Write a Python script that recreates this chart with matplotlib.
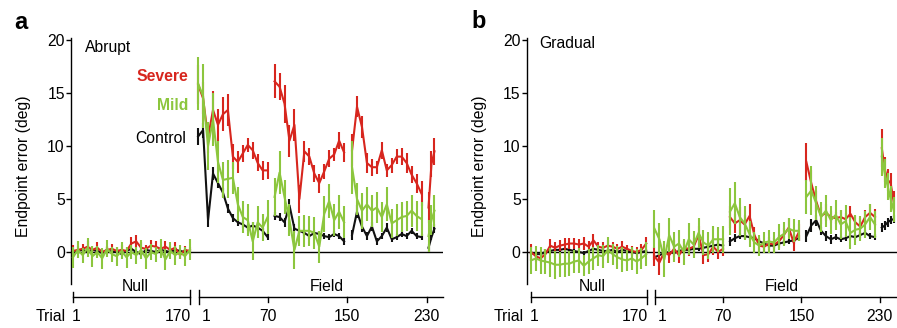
import matplotlib
matplotlib.use('Agg')
import matplotlib.pyplot as plt
import numpy as np

plt.rcParams['font.family'] = ['Liberation Sans', 'DejaVu Sans']
plt.rcParams['font.size'] = 11.3

RED = '#d7261e'
GREEN = '#8cc63e'
BLACK = '#111111'

# trial bins (null phase and the field phase, which is split in blocks)
null_trials = np.arange(1, 170, 7)
field_blocks = [np.arange(0, 71, 5), np.arange(77, 148, 5), np.arange(155, 226, 5)]
a_last_block = [232, 235, 238]
b_last_block = [232, 235, 238, 241, 244]

null_ticks = [1, 170]
field_ticks = [1, 70, 150, 230]

# ---- panel a: abrupt ----
a_null_red = [0.1, 0.2, 0.3, 0.5, 0.2, 0.4, 0.0, 0.2, 0.3, 0.1, 0.2, 0.1, 0.8,
              1.0, 0.4, 0.3, 0.6, 0.5, 0.3, 0.5, 0.2, 0.4, -0.3, 0.2, 0.1]
a_null_red_err = [0.6, 0.4, 0.5, 0.5, 0.4, 0.5, 0.3, 0.4, 0.5, 0.4, 0.5, 0.4, 0.6,
                  0.6, 0.5, 0.4, 0.5, 0.5, 0.4, 0.5, 0.4, 0.5, 0.4, 0.4, 0.4]
a_null_ctl = [-0.1, 0.1, 0.2, 0.0, 0.2, 0.1, -0.1, 0.2, 0.0, 0.1, -0.2, 0.1, 0.3,
              0.0, -0.2, 0.2, 0.1, 0.0, 0.2, 0.1, 0.0, 0.2, 0.1, 0.0, 0.1]
a_null_ctl_err = [0.2, 0.2, 0.3, 0.2, 0.2, 0.2, 0.2, 0.3, 0.2, 0.2, 0.2, 0.2, 0.2,
                  0.3, 0.2, 0.2, 0.2, 0.2, 0.3, 0.2, 0.2, 0.2, 0.2, 0.2, 0.2]
a_null_mild = [-0.5, 0.2, -0.3, 0.4, -0.4, 0.0, -0.6, 0.3, -0.2, -0.4, 0.1, -0.5, 0.0,
               -0.3, 0.2, -0.6, 0.0, -0.2, 0.3, -0.7, 0.1, -0.3, 0.0, -0.4, 0.2]
a_null_mild_err = [1.0, 0.8, 0.7, 0.9, 1.0, 0.6, 1.0, 0.8, 0.7, 0.9, 0.8, 1.0, 0.7,
                   0.8, 0.9, 1.0, 0.8, 0.7, 0.9, 1.0, 0.8, 0.9, 0.7, 0.9, 1.0]

a_field_red = [15.8, 14.5, 10.8, 13.4, 12.0, 13.0, 13.4, 9.0, 8.5, 9.3, 10.1, 9.6, 8.4, 7.7, 7.7,
               16.1, 15.6, 14.0, 10.5, 12.0, 5.0, 9.5, 9.0, 7.4, 6.5, 7.6, 8.8, 9.2, 10.5, 9.4,
               9.6, 13.7, 11.8, 8.4, 8.0, 8.0, 9.6, 7.7, 8.2, 9.0, 9.0, 8.4, 7.3, 6.5, 5.5,
               4.2, 8.3, 9.5]
a_field_red_err = [1.8, 1.5, 1.5, 1.8, 1.5, 1.6, 1.5, 1.2, 1.0, 0.8, 0.7, 0.8, 0.8, 0.9, 0.8,
                   1.6, 1.3, 1.8, 1.5, 1.5, 1.3, 1.0, 0.8, 0.8, 0.9, 0.7, 0.8, 0.6, 0.8, 0.9,
                   1.5, 1.0, 1.0, 0.9, 0.8, 0.6, 0.8, 0.6, 0.7, 0.7, 0.8, 0.9, 0.8, 0.9, 1.2,
                   1.5, 1.2, 1.3]
a_field_ctl = [10.9, 11.5, 3.0, 7.4, 6.5, 5.6, 4.1, 3.2, 2.8, 2.6, 2.3, 2.5, 2.3, 2.0, 1.4,
               3.4, 3.3, 2.8, 4.4, 2.2, 2.0, 1.8, 1.5, 1.8, 1.7, 1.5, 1.4, 1.7, 1.5, 1.0,
               1.6, 3.8, 2.4, 1.5, 2.4, 1.0, 1.5, 2.3, 1.2, 1.4, 1.7, 1.5, 2.0, 1.5, 1.4,
               0.4, 1.4, 2.2]
a_field_ctl_err = [0.8, 0.7, 0.6, 0.6, 0.5, 0.4, 0.4, 0.4, 0.3, 0.3, 0.3, 0.3, 0.3, 0.3, 0.3,
                   0.4, 0.4, 0.4, 0.6, 0.4, 0.3, 0.3, 0.3, 0.3, 0.3, 0.3, 0.3, 0.3, 0.3, 0.3,
                   0.5, 0.6, 0.5, 0.4, 0.4, 0.3, 0.3, 0.4, 0.3, 0.3, 0.3, 0.3, 0.3, 0.3, 0.3,
                   0.4, 0.3, 0.4]
a_field_mild = [15.9, 14.7, 10.0, 12.5, 8.5, 6.8, 6.9, 7.0, 4.5, 3.3, 3.0, 1.0, 2.8, 2.3, 3.3,
                5.2, 7.5, 5.2, 3.0, 0.2, 2.0, 2.0, 2.0, 1.8, 0.5, 3.6, 4.8, 3.0, 3.8, 2.8,
                8.0, 5.0, 3.9, 4.5, 3.9, 4.2, 3.3, 4.5, 2.7, 3.0, 3.3, 3.4, 3.9, 3.4, 3.1,
                1.5, 3.0, 3.9]
a_field_mild_err = [2.5, 3.0, 2.3, 2.5, 2.0, 1.7, 1.8, 1.5, 1.6, 1.5, 1.5, 1.8, 1.5, 1.3, 1.6,
                    1.8, 2.0, 1.6, 1.5, 1.8, 1.4, 1.5, 1.4, 1.5, 1.5, 1.7, 1.6, 1.5, 1.6, 1.5,
                    2.5, 1.5, 1.7, 1.6, 1.5, 1.5, 1.4, 1.6, 1.4, 1.5, 1.4, 1.4, 1.5, 1.4, 1.6,
                    1.5, 1.4, 1.5]

# ---- panel b: gradual ----
b_null_red = [0.0, -0.4, -0.6, -0.2, 0.6, 0.4, 0.6, 0.7, 0.8, 0.8, 0.7, 0.8, 0.5,
              1.1, 0.5, 0.4, 0.6, 0.5, 0.3, 0.5, 0.3, 0.1, 0.0, 0.2, 0.8]
b_null_red_err = [0.8, 0.5, 0.4, 0.5, 0.6, 0.5, 0.5, 0.6, 0.5, 0.5, 0.5, 0.6, 0.5,
                  0.6, 0.4, 0.5, 0.5, 0.4, 0.5, 0.5, 0.4, 0.5, 0.5, 0.6, 0.6]
b_null_ctl = [-0.1, -0.2, -0.2, 0.0, 0.1, 0.2, 0.2, 0.3, 0.2, 0.1, 0.0, -0.1, 0.1,
              0.3, 0.2, 0.1, 0.1, 0.2, 0.0, 0.2, 0.1, 0.0, -0.1, 0.0, 0.1]
b_null_ctl_err = [0.2, 0.2, 0.2, 0.3, 0.2, 0.2, 0.2, 0.2, 0.3, 0.2, 0.2, 0.2, 0.2,
                  0.2, 0.2, 0.3, 0.2, 0.2, 0.2, 0.2, 0.2, 0.3, 0.2, 0.2, 0.2]
b_null_mild = [-0.8, -0.6, -0.8, -0.9, -1.0, -1.2, -1.2, -1.1, -1.1, -0.9, -0.8, -1.3, -0.9,
               -0.6, -0.3, -0.4, 0.2, -0.2, -0.5, -0.7, -0.8, -0.6, -0.9, -0.6, -0.2]
b_null_mild_err = [1.3, 1.2, 1.3, 1.2, 1.4, 1.3, 1.2, 1.3, 1.2, 1.1, 1.2, 1.0, 1.2,
                   1.1, 1.0, 1.1, 1.2, 1.0, 1.1, 1.2, 1.0, 1.1, 1.2, 1.0, 1.1]

b_field_red = [-0.4, -1.0, 0.0, -0.3, 0.3, -0.3, 0.4, 0.3, 0.5, 1.6, -0.3, -0.2, 0.5, 0.0, 0.3,
               3.3, 2.7, 3.0, 2.6, 3.4, 1.6, 0.6, 0.5, 0.8, 0.7, 1.0, 1.6, 2.3, 0.9, 1.8,
               8.5, 6.5, 4.8, 3.4, 3.7, 3.3, 3.2, 3.3, 3.1, 3.6, 2.8, 2.4, 3.3, 3.7, 3.3,
               9.8, 7.8, 6.8, 6.5, 4.8]
b_field_red_err = [0.9, 1.2, 0.8, 0.7, 0.8, 0.7, 0.6, 0.7, 0.8, 0.9, 0.8, 0.7, 0.8, 0.7, 0.7,
                   1.0, 0.9, 1.2, 0.9, 1.1, 0.8, 0.6, 0.5, 0.6, 0.6, 0.6, 0.7, 0.9, 0.8, 0.8,
                   1.8, 1.2, 1.0, 0.8, 0.8, 0.6, 0.6, 0.7, 0.6, 0.7, 0.6, 0.8, 0.7, 0.8, 0.8,
                   1.8, 1.2, 1.0, 1.0, 1.0]
b_field_ctl = [-0.5, -0.3, -0.1, 0.0, -0.1, 0.1, 0.2, 0.2, 0.3, 0.3, 0.4, 0.5, 0.6, 0.7, 0.6,
               1.0, 1.3, 1.5, 1.5, 1.4, 1.3, 1.0, 0.8, 0.6, 0.6, 0.8, 0.9, 1.0, 1.1, 1.3,
               1.5, 2.5, 3.0, 2.0, 1.5, 1.2, 1.4, 1.2, 1.3, 1.5, 1.4, 1.6, 1.8, 1.5, 1.4,
               2.3, 2.5, 2.8, 3.0, 3.1]
b_field_ctl_err = [0.3, 0.3, 0.2, 0.3, 0.2, 0.2, 0.2, 0.2, 0.2, 0.2, 0.2, 0.2, 0.2, 0.3, 0.2,
                   0.4, 0.4, 0.3, 0.3, 0.3, 0.3, 0.3, 0.2, 0.2, 0.2, 0.2, 0.2, 0.2, 0.3, 0.3,
                   0.6, 0.6, 0.5, 0.4, 0.5, 0.4, 0.3, 0.3, 0.3, 0.3, 0.3, 0.3, 0.3, 0.3, 0.3,
                   0.4, 0.4, 0.4, 0.4, 0.4]
b_field_mild = [2.2, 1.2, -0.7, 1.6, 0.5, 0.8, 0.0, 1.2, 0.7, 1.8, 0.9, 0.6, 1.2, 1.2, 1.2,
                3.8, 4.6, 3.3, 2.7, 1.7, 0.9, 0.6, 0.9, 1.0, 0.9, 1.4, 1.7, 2.2, 2.0, 2.0,
                5.2, 5.8, 4.6, 3.3, 3.9, 3.0, 3.5, 2.6, 2.9, 1.8, 2.1, 2.2, 2.6, 3.3, 2.6,
                9.0, 7.4, 6.2, 5.0, 4.0]
b_field_mild_err = [1.8, 1.5, 1.7, 1.6, 1.4, 1.3, 1.2, 1.5, 1.3, 1.4, 1.2, 1.3, 1.3, 1.2, 1.3,
                    2.2, 2.0, 1.8, 1.6, 1.2, 1.0, 1.0, 1.0, 1.1, 1.0, 1.2, 1.1, 1.0, 1.1, 1.0,
                    1.6, 2.3, 1.6, 1.4, 1.5, 1.3, 1.4, 1.4, 1.5, 1.5, 1.4, 1.2, 1.3, 1.2, 1.3,
                    1.8, 1.4, 1.3, 1.2, 1.2]


def null_x(t):
    return (np.asarray(t, dtype=float) - 1) * 0.70


def field_x(t):
    return 126 + np.asarray(t, dtype=float)


def draw(ax, blocks, vals, errs, color, z):
    i = 0
    for x in blocks:
        n = len(x)
        ax.errorbar(x, vals[i:i + n], yerr=errs[i:i + n], color=color, lw=1.5,
                    elinewidth=1.5, capsize=0, zorder=z)
        i += n


fig = plt.figure(figsize=(8.97, 3.28), dpi=100)

bottom = (328 - 283.8) / 328
height = (283.8 - 37.9) / 328
panels = [
    # left px, right px, xlim
    (71, 443, (-2.0, 372.6)),
    (527, 897, (-4.1, 373.5)),
]

axes = []
for k, (l, r, xl) in enumerate(panels):
    ax = fig.add_axes([l / 897, bottom, (r - l) / 897, height])
    ax.set_xlim(xl)
    ax.set_ylim(-3, 20.2)
    ax.set_yticks([0, 5, 10, 15, 20])
    ax.set_xticks([])
    for s in ['top', 'right', 'bottom']:
        ax.spines[s].set_visible(False)
    ax.spines['left'].set_linewidth(1.0)
    ax.tick_params(axis='y', direction='out', length=3.5, width=1.0, pad=1)
    ax.axhline(0, color='black', lw=1.0, zorder=1)
    ax.set_ylabel('Endpoint error (deg)')
    ax.yaxis.set_label_coords(-0.107, 0.479)

    # trial axis underneath
    tax = fig.add_axes([l / 897, 0, (r - l) / 897, bottom])
    tax.set_xlim(xl)
    tax.set_ylim(0, 44.2)
    tax.axis('off')
    x0, x1 = null_x(null_ticks[0]), null_x(null_ticks[1])
    f0 = field_x(field_ticks[0])
    tax.plot([x0, x1], [31.5, 31.5], color='black', lw=1.0, clip_on=False)
    tax.plot([f0, xl[1]], [31.5, 31.5], color='black', lw=1.0, clip_on=False)
    tax.plot([x0, x0], [26.5, 36.5], color='black', lw=1.0, clip_on=False)
    tax.plot([x1, x1], [24, 38], color='black', lw=1.0, clip_on=False)
    tax.plot([f0, f0], [24, 38], color='black', lw=1.0, clip_on=False)
    for t in field_ticks[1:]:
        tax.plot([field_x(t)] * 2, [26, 31.5], color='black', lw=1.0, clip_on=False)
        tax.text(field_x(t), 11.5, str(t), ha='center', va='center')
    tax.text(x0 - 1, 11.5, str(null_ticks[0]), ha='left', va='center')
    tax.annotate('Trial', xy=(x0, 11.5), xytext=(-5, 0), textcoords='offset points',
                 ha='right', va='center')
    tax.text(x1 + 1, 11.5, str(null_ticks[1]), ha='right', va='center')
    tax.annotate(str(field_ticks[0]), xy=(f0, 11.5), xytext=(2, 0),
                 textcoords='offset points', ha='left', va='center')
    tax.text(null_x(90), 41.3, 'Null', ha='center', va='center')
    tax.text(field_x(130), 41.3, 'Field', ha='center', va='center')
    axes.append(ax)

ax_a, ax_b = axes
a_blocks = [field_x(b) for b in field_blocks] + [field_x(a_last_block)]
b_blocks = [field_x(b) for b in field_blocks] + [field_x(b_last_block)]
nx = [null_x(null_trials)]

draw(ax_a, nx, a_null_ctl, a_null_ctl_err, BLACK, 2)
draw(ax_a, nx, a_null_red, a_null_red_err, RED, 3)
draw(ax_a, nx, a_null_mild, a_null_mild_err, GREEN, 4)
draw(ax_a, a_blocks, a_field_ctl, a_field_ctl_err, BLACK, 2)
draw(ax_a, a_blocks, a_field_red, a_field_red_err, RED, 3)
draw(ax_a, a_blocks, a_field_mild, a_field_mild_err, GREEN, 4)

draw(ax_b, nx, b_null_ctl, b_null_ctl_err, BLACK, 2)
draw(ax_b, nx, b_null_red, b_null_red_err, RED, 3)
draw(ax_b, nx, b_null_mild, b_null_mild_err, GREEN, 4)
draw(ax_b, b_blocks, b_field_ctl, b_field_ctl_err, BLACK, 2)
draw(ax_b, b_blocks, b_field_red, b_field_red_err, RED, 3)
draw(ax_b, b_blocks, b_field_mild, b_field_mild_err, GREEN, 4)

ax_a.text(12.1, 19.3, 'Abrupt', ha='left', va='center')
ax_a.text(115.8, 16.6, 'Severe', ha='right', va='center', color=RED, fontweight='bold')
ax_a.text(115.8, 13.8, 'Mild', ha='right', va='center', color=GREEN, fontweight='bold')
ax_a.text(113.8, 10.7, 'Control', ha='right', va='center', color='black')
ax_b.text(8.5, 19.7, 'Gradual', ha='left', va='center')

fig.text(14 / 897, 1 - 28.7 / 328, 'a', fontsize=17, fontweight='bold', va='baseline')
fig.text(471.7 / 897, 1 - 28.3 / 328, 'b', fontsize=17, fontweight='bold', va='baseline')

plt.savefig('out.png', dpi=100)
